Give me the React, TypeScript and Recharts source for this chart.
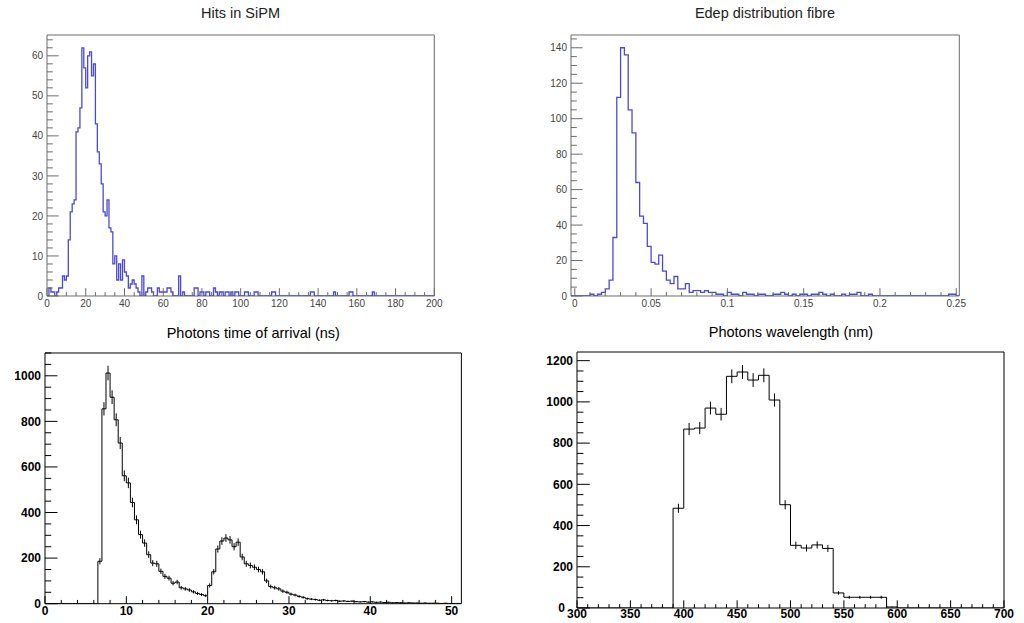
import { ComposedChart, Line, Scatter, ErrorBar, XAxis, YAxis, ReferenceArea } from 'recharts'

// Hits in SiPM: 1-wide bins from 0 to 200
const hitsCounts = [
  0, 2, 1, 1, 0, 1, 2, 2, 5, 4, 5, 14, 21, 23, 24, 41, 42, 47, 62, 57,
  52, 60, 61, 55, 58, 43, 36, 33, 28, 21, 20, 24, 17, 16, 8, 10, 4, 8, 4, 9,
  6, 5, 2, 3, 4, 3, 2, 1, 0, 5, 0, 1, 2, 2, 1, 0, 0, 2, 1, 1,
  1, 1, 2, 2, 1, 0, 0, 0, 5,
]
// sparse tail past bin 68
const hitsTailBins = [70, 76, 77, 79, 80, 82, 83, 86, 87, 89, 90, 92, 93, 95, 97, 98, 102, 103, 107, 108, 116, 117, 136, 137, 148, 156, 157, 168]
const hitsTailCounts = [1, 2, 2, 1, 1, 1, 1, 2, 1, 1, 1, 1, 1, 1, 1, 1, 1, 1, 1, 1, 1, 1, 1, 1, 1, 1, 1, 1]
const hitsXMajor = [0, 20, 40, 60, 80, 100, 120, 140, 160, 180, 200]
const hitsYMajor = [0, 10, 20, 30, 40, 50, 60]

// Edep distribution fibre: 0.0025-wide bins from 0
const edepBinWidth = 0.0025
const edepCounts = [
  0, 0, 0, 0, 1, 0, 1, 2, 4, 9, 33, 112, 140, 136, 105, 92, 64, 45, 41, 28,
  19, 18, 23, 14, 9, 7, 11, 4, 4, 7, 2, 3, 3, 2, 3, 2, 2, 1, 1, 0,
  2, 1, 1, 0, 2, 1, 1, 0, 1, 1, 0, 0, 1, 1, 2, 1, 0, 1, 0, 1,
  1, 0, 1, 1, 2, 1, 0, 1, 0, 0, 1, 0, 1, 1, 2, 0, 0, 1, 0, 0,
  0, 0, 0, 0, 0, 0, 0, 0, 0, 0, 0, 0, 0, 0, 0, 0, 0, 0, 1, 1,
]
const edepXMajor = [0, 0.05, 0.1, 0.15, 0.2, 0.25]
const edepYMajor = [0, 20, 40, 60, 80, 100, 120, 140]

// Photons time of arrival: 0.5 ns bins starting at 6.5 ns
const timeStart = 6.5
const timeBinWidth = 0.5
const timeCounts = [
  186, 855, 1012, 906, 807, 705, 561, 530, 444, 368,
  303, 266, 215, 178, 175, 142, 120, 112, 90, 95,
  70, 65, 60, 52, 45, 40, 35, 80, 140, 240,
  275, 288, 280, 250, 270, 205, 175, 168, 160, 150,
  140, 100, 75, 70, 65, 55, 50, 42, 38, 32,
  28, 22, 20, 18, 15, 17, 14, 13, 14, 11,
  12, 10, 11, 9, 8, 9, 7, 8, 6, 7,
  5, 6, 4, 5, 4, 3, 4, 3, 3, 2,
  3, 2, 2, 2, 1, 2, 1, 1, 1,
]
const timeXMajor = [0, 10, 20, 30, 40, 50]
const timeYMajor = [0, 200, 400, 600, 800, 1000]

// Photons wavelength: 10 nm bins starting at 390 nm
const waveStart = 390
const waveBinWidth = 10
const waveCounts = [484, 868, 873, 970, 940, 1124, 1145, 1106, 1129, 1009, 501, 304, 291, 306, 289, 73, 52, 52, 52, 52, 5]
const waveXMajor = [300, 350, 400, 450, 500, 550, 600, 650, 700]
const waveYMajor = [0, 200, 400, 600, 800, 1000, 1200]

type Pt = { x: number; y: number; err?: number }

function stepData(start: number, width: number, counts: number[], lo: number, hi: number): Pt[] {
  const pts: Pt[] = []
  if (start > lo) pts.push({ x: lo, y: 0 })
  counts.forEach((c, i) => pts.push({ x: start + i * width, y: c }))
  const end = start + counts.length * width
  pts.push({ x: end, y: 0 })
  if (hi > end) pts.push({ x: hi, y: 0 })
  return pts
}

function errorData(start: number, width: number, counts: number[]): Pt[] {
  return counts
    .map((c, i) => ({ x: start + (i + 0.5) * width, y: c, err: Math.sqrt(c) }))
    .filter((d) => d.y > 0)
}

function tickGrid(from: number, to: number, step: number) {
  const out: number[] = []
  for (let i = 0; from + i * step <= to + 1e-9; i++) out.push(Number((from + i * step).toFixed(6)))
  return out
}

const isMajor = (majors: number[], v: number) => majors.some((m) => Math.abs(m - v) < 1e-9)

const hitsAll = Array.from({ length: 200 }, (_, i) => (i < hitsCounts.length ? hitsCounts[i] : 0))
hitsTailBins.forEach((b, i) => {
  hitsAll[b] = hitsTailCounts[i]
})

const FONT = '"Liberation Sans", Arial, Helvetica, sans-serif'
const ML = 48
const MT = 6
const MR = 12
const MB = 18

interface PanelProps {
  title: string
  titleX: number
  titleY: number
  frame: { left: number; top: number; width: number; height: number }
  xDomain: [number, number]
  yDomain: [number, number]
  xTickFrom: number
  xMajor: number[]
  xMinor: number
  yMajor: number[]
  yMinor: number
  line: Pt[]
  errors?: Pt[]
  lineColor: string
  lineWidth: number
  frameColor: string
  textColor: string
  titleColor: string
  fontSize: number
  bold?: boolean
  xLabelOffset: number
  zeroLabelDx?: number
}

function Panel(p: PanelProps) {
  const { frame } = p
  const w = ML + frame.width + MR
  const h = MT + frame.height + MB
  const plotBottom = MT + frame.height
  const xTicks = tickGrid(p.xTickFrom, p.xDomain[1], p.xMinor)
  const yTicks = tickGrid(p.yDomain[0], p.yDomain[1], p.yMinor)
  const yLen = frame.width * 0.03
  const xLen = frame.height * 0.03
  const fw = p.bold ? 'bold' : 'normal'

  const renderYTick = (t: any) => {
    const v = t.payload.value
    const major = isMajor(p.yMajor, v)
    const dx = v === p.yDomain[0] ? p.zeroLabelDx ?? 0 : 0
    return (
      <g>
        <line x1={ML} x2={ML + (major ? yLen : yLen / 2)} y1={t.y} y2={t.y} stroke={p.frameColor} strokeWidth={1} />
        {major && (
          <text x={ML - 4 + dx} y={t.y} dy="0.36em" textAnchor="end" fill={p.textColor} fontSize={p.fontSize} fontWeight={fw} fontFamily={FONT}>
            {v}
          </text>
        )}
      </g>
    )
  }

  const renderXTick = (t: any) => {
    const v = t.payload.value
    const major = isMajor(p.xMajor, v)
    return (
      <g>
        <line x1={t.x} x2={t.x} y1={plotBottom} y2={plotBottom - (major ? xLen : xLen / 2)} stroke={p.frameColor} strokeWidth={1} />
        {major && (
          <text x={t.x} y={plotBottom + p.xLabelOffset} dy="0.36em" textAnchor="middle" fill={p.textColor} fontSize={p.fontSize} fontWeight={fw} fontFamily={FONT}>
            {v}
          </text>
        )}
      </g>
    )
  }

  return (
    <>
      <div
        style={{
          position: 'absolute',
          left: p.titleX - 200,
          width: 400,
          top: p.titleY - 9,
          textAlign: 'center',
          fontFamily: FONT,
          fontSize: 14.5,
          lineHeight: '18px',
          color: p.titleColor,
          whiteSpace: 'nowrap',
        }}
      >
        {p.title}
      </div>
      <div style={{ position: 'absolute', left: frame.left - ML, top: frame.top - MT }}>
        <ComposedChart width={w} height={h} margin={{ top: MT, right: MR, bottom: 0, left: 0 }}>
          <XAxis
            type="number"
            dataKey="x"
            domain={p.xDomain}
            ticks={xTicks}
            interval={0}
            allowDataOverflow
            height={MB}
            axisLine={false}
            tickLine={false}
            tick={renderXTick}
          />
          <YAxis
            type="number"
            dataKey="y"
            domain={p.yDomain}
            ticks={yTicks}
            interval={0}
            allowDataOverflow
            width={ML}
            axisLine={false}
            tickLine={false}
            tick={renderYTick}
          />
          <ReferenceArea
            x1={p.xDomain[0]}
            x2={p.xDomain[1]}
            y1={p.yDomain[0]}
            y2={p.yDomain[1]}
            fill="none"
            stroke={p.frameColor}
            strokeWidth={1}
            ifOverflow="visible"
          />
          <Line
            data={p.line}
            dataKey="y"
            type="stepAfter"
            stroke={p.lineColor}
            strokeWidth={p.lineWidth}
            dot={false}
            activeDot={false}
            isAnimationActive={false}
          />
          {p.errors && (
            <Scatter data={p.errors} dataKey="y" shape={() => <g />} isAnimationActive={false}>
              <ErrorBar dataKey="err" direction="y" width={0} stroke={p.lineColor} strokeWidth={1} isAnimationActive={false} />
            </Scatter>
          )}
        </ComposedChart>
      </div>
    </>
  )
}

const BLUE = '#4a4ad4'

export default function App() {
  return (
    <div style={{ position: 'absolute', left: 0, top: 0, width: 1024, height: 623, overflow: 'hidden', background: '#fff' }}>
      <Panel
        title="Hits in SiPM"
        titleX={240.5}
        titleY={13.4}
        frame={{ left: 46.7, top: 35, width: 387.3, height: 261 }}
        xDomain={[0, 200]}
        yDomain={[0, 65.2]}
        xTickFrom={0}
        xMajor={hitsXMajor}
        xMinor={5}
        yMajor={hitsYMajor}
        yMinor={2}
        line={stepData(0, 1, hitsAll, 0, 200)}
        lineColor={BLUE}
        lineWidth={1.3}
        frameColor="#6a6a6a"
        textColor="#444"
        titleColor="#222"
        fontSize={10}
        xLabelOffset={7}
      />
      <Panel
        title="Edep distribution fibre"
        titleX={765}
        titleY={12.7}
        frame={{ left: 570.7, top: 35, width: 388.3, height: 261 }}
        xDomain={[-0.0025, 0.252]}
        yDomain={[0, 147.2]}
        xTickFrom={0}
        xMajor={edepXMajor}
        xMinor={0.01}
        yMajor={edepYMajor}
        yMinor={5}
        line={stepData(0, edepBinWidth, edepCounts, -0.0025, 0.252)}
        lineColor={BLUE}
        lineWidth={1.3}
        frameColor="#6a6a6a"
        textColor="#444"
        titleColor="#222"
        fontSize={10}
        xLabelOffset={7}
      />
      <Panel
        title="Photons time of arrival (ns)"
        titleX={253.3}
        titleY={333.3}
        frame={{ left: 45.3, top: 353.3, width: 416.4, height: 250.7 }}
        xDomain={[0, 51.2]}
        yDomain={[0, 1100]}
        xTickFrom={0}
        xMajor={timeXMajor}
        xMinor={2}
        yMajor={timeYMajor}
        yMinor={50}
        line={stepData(timeStart, timeBinWidth, timeCounts, 0, 51.2)}
        errors={errorData(timeStart, timeBinWidth, timeCounts)}
        lineColor="#000"
        lineWidth={1}
        frameColor="#000"
        textColor="#000"
        titleColor="#000"
        fontSize={12}
        bold
        xLabelOffset={6.5}
      />
      <Panel
        title="Photons wavelength (nm)"
        titleX={791}
        titleY={331.7}
        frame={{ left: 577.3, top: 352.3, width: 427, height: 256 }}
        xDomain={[300, 700]}
        yDomain={[0, 1242]}
        xTickFrom={300}
        xMajor={waveXMajor}
        xMinor={10}
        yMajor={waveYMajor}
        yMinor={50}
        line={stepData(waveStart, waveBinWidth, waveCounts, 300, 700)}
        errors={errorData(waveStart, waveBinWidth, waveCounts)}
        lineColor="#000"
        lineWidth={1}
        frameColor="#000"
        textColor="#000"
        titleColor="#000"
        fontSize={12}
        bold
        xLabelOffset={6}
        zeroLabelDx={-8}
      />
    </div>
  )
}
